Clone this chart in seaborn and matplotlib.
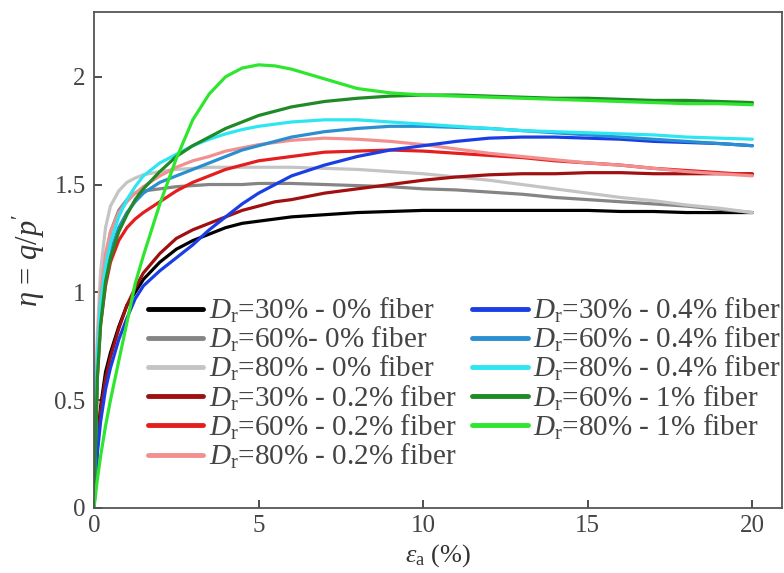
import numpy as np
import pandas as pd
import matplotlib
matplotlib.use("Agg")
import matplotlib.pyplot as plt
import seaborn as sns

strain = [0, 0.1, 0.2, 0.35, 0.5, 0.75, 1, 1.25, 1.5, 2, 2.5, 3, 3.5, 4, 4.5, 5, 5.5, 6,
          7, 8, 9, 10, 11, 12, 13, 14, 15, 16, 17, 18, 19, 20]

labels = [
    r"$D_\mathrm{r}$=30% - 0% fiber",
    r"$D_\mathrm{r}$=60%- 0% fiber",
    r"$D_\mathrm{r}$=80% - 0% fiber",
    r"$D_\mathrm{r}$=30% - 0.2% fiber",
    r"$D_\mathrm{r}$=60% - 0.2% fiber",
    r"$D_\mathrm{r}$=80% - 0.2% fiber",
    r"$D_\mathrm{r}$=30% - 0.4% fiber",
    r"$D_\mathrm{r}$=60% - 0.4% fiber",
    r"$D_\mathrm{r}$=80% - 0.4% fiber",
    r"$D_\mathrm{r}$=60% - 1% fiber",
    r"$D_\mathrm{r}$=80% - 1% fiber",
]

colors = ["#000000", "#858585", "#c4c4c4", "#a01010", "#e41e1e", "#f29090",
          "#1a3ee6", "#2a8fd0", "#2ee6f2", "#1f8a26", "#2ee62e"]

d30_0 = [0, 0.30, 0.47, 0.63, 0.72, 0.84, 0.94, 1.00, 1.06, 1.14, 1.20, 1.24, 1.27, 1.30, 1.32, 1.33, 1.34, 1.35,
         1.36, 1.37, 1.375, 1.38, 1.38, 1.38, 1.38, 1.38, 1.38, 1.375, 1.375, 1.37, 1.37, 1.37]
d60_0 = [0, 0.70, 0.95, 1.15, 1.28, 1.38, 1.43, 1.46, 1.47, 1.48, 1.49, 1.495, 1.50, 1.50, 1.50, 1.505, 1.505, 1.505,
         1.50, 1.495, 1.49, 1.48, 1.475, 1.465, 1.455, 1.44, 1.43, 1.42, 1.41, 1.40, 1.385, 1.37]
d80_0 = [0, 0.80, 1.10, 1.30, 1.40, 1.47, 1.51, 1.53, 1.545, 1.56, 1.57, 1.575, 1.58, 1.58, 1.58, 1.58, 1.58, 1.58,
         1.575, 1.57, 1.56, 1.55, 1.535, 1.52, 1.50, 1.48, 1.46, 1.44, 1.425, 1.405, 1.39, 1.37]
d30_02 = [0, 0.28, 0.45, 0.60, 0.70, 0.83, 0.94, 1.02, 1.09, 1.18, 1.25, 1.29, 1.32, 1.35, 1.38, 1.40, 1.42, 1.43,
          1.46, 1.48, 1.50, 1.52, 1.535, 1.545, 1.55, 1.55, 1.555, 1.555, 1.55, 1.55, 1.55, 1.55]
d60_02 = [0, 0.60, 0.85, 1.03, 1.14, 1.24, 1.30, 1.34, 1.37, 1.42, 1.47, 1.51, 1.54, 1.57, 1.59, 1.61, 1.62, 1.63,
          1.65, 1.655, 1.66, 1.655, 1.645, 1.635, 1.625, 1.61, 1.60, 1.59, 1.575, 1.565, 1.555, 1.545]
d80_02 = [0, 0.75, 1.00, 1.18, 1.28, 1.37, 1.42, 1.46, 1.49, 1.54, 1.58, 1.61, 1.63, 1.655, 1.67, 1.685, 1.695, 1.705,
          1.715, 1.71, 1.70, 1.685, 1.665, 1.645, 1.63, 1.615, 1.60, 1.59, 1.575, 1.56, 1.55, 1.54]
d30_04 = [0, 0.25, 0.40, 0.55, 0.65, 0.78, 0.88, 0.97, 1.03, 1.10, 1.16, 1.22, 1.29, 1.35, 1.41, 1.46, 1.50, 1.54,
          1.59, 1.63, 1.66, 1.68, 1.70, 1.715, 1.72, 1.72, 1.715, 1.71, 1.70, 1.695, 1.69, 1.68]
d60_04 = [0, 0.65, 0.90, 1.08, 1.19, 1.30, 1.37, 1.42, 1.46, 1.51, 1.54, 1.57, 1.60, 1.63, 1.66, 1.68, 1.70, 1.72,
          1.745, 1.76, 1.77, 1.77, 1.765, 1.76, 1.75, 1.74, 1.73, 1.72, 1.71, 1.70, 1.69, 1.68]
d80_04 = [0, 0.70, 0.95, 1.12, 1.23, 1.35, 1.43, 1.49, 1.54, 1.60, 1.64, 1.68, 1.71, 1.735, 1.755, 1.77, 1.78, 1.79,
          1.80, 1.80, 1.79, 1.78, 1.77, 1.76, 1.75, 1.745, 1.74, 1.735, 1.73, 1.72, 1.715, 1.71]
d60_1 = [0, 0.60, 0.85, 1.05, 1.16, 1.28, 1.36, 1.43, 1.48, 1.56, 1.63, 1.68, 1.72, 1.76, 1.79, 1.82, 1.84, 1.86,
         1.885, 1.90, 1.91, 1.915, 1.915, 1.91, 1.905, 1.90, 1.90, 1.895, 1.89, 1.89, 1.885, 1.88]
d80_1 = [0, 0.13, 0.24, 0.38, 0.50, 0.68, 0.86, 1.04, 1.17, 1.41, 1.62, 1.80, 1.92, 2.00, 2.04, 2.055, 2.05, 2.035,
         1.99, 1.945, 1.925, 1.915, 1.91, 1.905, 1.90, 1.895, 1.89, 1.885, 1.88, 1.875, 1.875, 1.87]

series = [d30_0, d60_0, d80_0, d30_02, d60_02, d80_02, d30_04, d60_04, d80_04, d60_1, d80_1]

rows = []
for lab, vals in zip(labels, series):
    for x, y in zip(strain, vals):
        rows.append({"strain": x, "eta": y, "label": lab})
df = pd.DataFrame(rows)

sns.set_theme(style="white")
plt.rcParams["font.family"] = ["Liberation Serif", "DejaVu Serif"]
plt.rcParams["mathtext.fontset"] = "custom"
plt.rcParams["mathtext.rm"] = "Liberation Serif"
plt.rcParams["mathtext.it"] = "Liberation Serif:italic"
plt.rcParams["mathtext.bf"] = "Liberation Serif:bold"

fig = plt.figure(figsize=(7.84, 5.73), dpi=100)
ax = fig.add_axes([94 / 784, 1 - 508 / 573, 688 / 784, 496 / 573])

palette = dict(zip(labels, colors))
sns.lineplot(data=df, x="strain", y="eta", hue="label", hue_order=labels, palette=palette,
             estimator=None, sort=False, linewidth=2.3, ax=ax, legend=True)

ax.set_xlim(0, 20.9)
ax.set_ylim(0, 2.3)
ax.set_xticks([0, 5, 10, 15, 20])
ax.set_xticklabels(["0", "5", "10", "15", "20"])
ax.set_yticks([0, 0.5, 1, 1.5, 2])
ax.set_yticklabels(["0", "0.5", "1", "1.5", "2"])
ax.tick_params(axis="both", direction="in", length=6, width=1.2, labelsize=18,
               colors="#303030", labelcolor="#444444", bottom=True, left=True, top=False, right=False)
ax.tick_params(axis="x", pad=5)
ax.tick_params(axis="y", pad=6)
for s in ax.spines.values():
    s.set_color("#555555")
    s.set_linewidth(1.3)

ax.set_xlabel(r"$\varepsilon_\mathrm{a}$ (%)", fontsize=19, color="#333333", labelpad=4)
ax.set_ylabel(r"$\eta$ = $q/p'$", fontsize=22, color="#333333", labelpad=5)

handles, labs = ax.get_legend_handles_labels()
leg = ax.legend(handles, labs, ncol=2, loc="upper left", bbox_to_anchor=(0.0785, 0.428),
                frameon=False, fontsize=21, handlelength=1.9, handletextpad=0.18,
                columnspacing=0.55, labelspacing=0.0, borderpad=0, borderaxespad=0)
for t in leg.get_texts():
    t.set_color("#444444")
for l in leg.get_lines():
    l.set_linewidth(3.5)

fig.savefig("out.png", dpi=100)
